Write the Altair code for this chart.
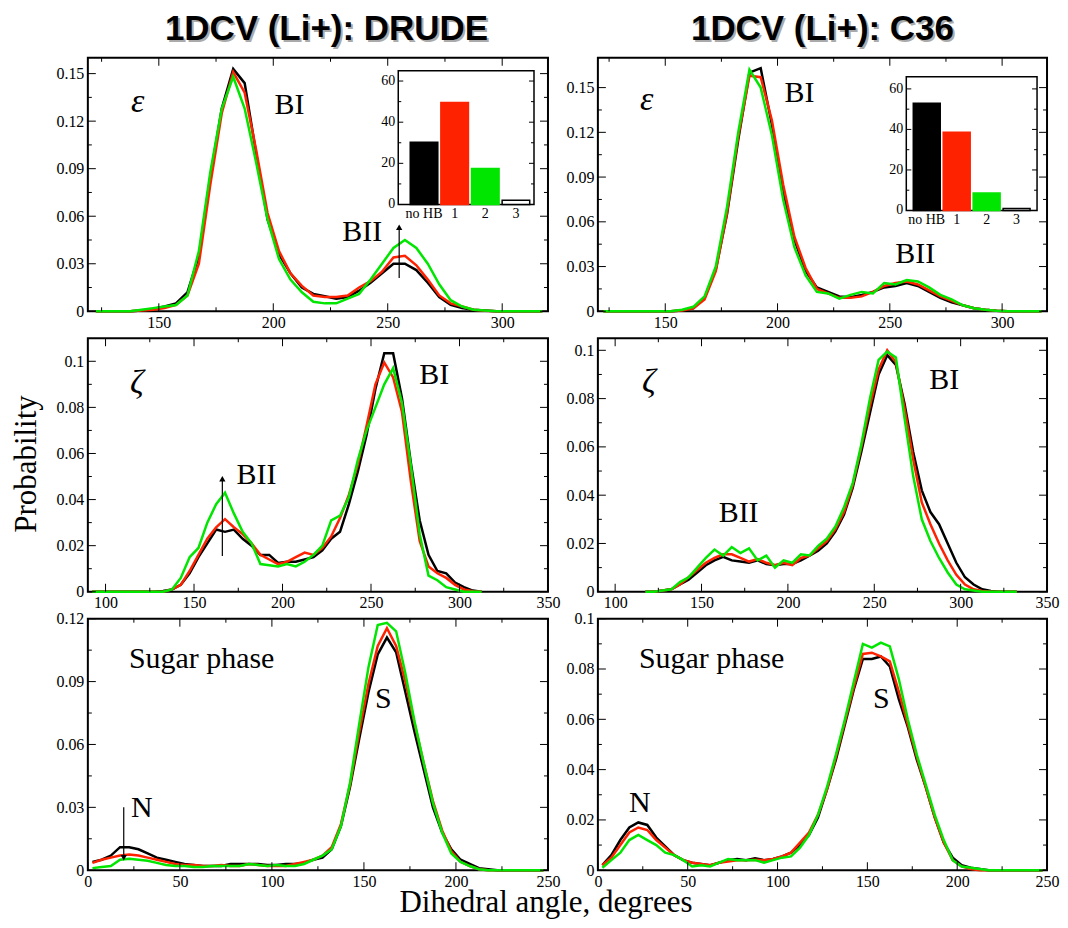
import altair as alt
import pandas as pd

# ---------------- data ----------------
eps_angle = [122.5, 127.5, 132.5, 137.5, 142.5, 147.5, 152.5, 157.5, 162.5, 167.5,
             172.5, 177.5, 182.5, 187.5, 192.5, 197.5, 202.5, 207.5, 212.5, 217.5,
             222.5, 227.5, 232.5, 237.5, 242.5, 247.5, 252.5, 257.5, 262.5, 267.5,
             272.5, 277.5, 282.5, 287.5, 292.5, 297.5, 302.5, 307.5, 312.5, 317.5]
eps_drude_black = [0, 0, 0, 0, 0.0005, 0.0015, 0.003, 0.005, 0.012, 0.035,
                   0.085, 0.128, 0.153, 0.144, 0.100, 0.058, 0.036, 0.024, 0.015, 0.011,
                   0.0095, 0.008, 0.009, 0.013, 0.018, 0.024, 0.030, 0.030, 0.026, 0.018,
                   0.009, 0.004, 0.002, 0.001, 0.0005, 0, 0, 0, 0, 0]
eps_drude_red = [0, 0, 0, 0, 0.0005, 0.001, 0.002, 0.004, 0.010, 0.030,
                 0.080, 0.125, 0.151, 0.138, 0.102, 0.062, 0.038, 0.024, 0.016, 0.010,
                 0.009, 0.009, 0.010, 0.015, 0.019, 0.025, 0.034, 0.035, 0.029, 0.020,
                 0.010, 0.005, 0.003, 0.001, 0.0003, 0, 0, 0, 0, 0]
eps_drude_green = [0, 0, 0, 0, 0.001, 0.002, 0.003, 0.004, 0.010, 0.038,
                   0.088, 0.128, 0.148, 0.128, 0.094, 0.058, 0.033, 0.020, 0.012, 0.006,
                   0.005, 0.005, 0.008, 0.011, 0.020, 0.030, 0.040, 0.045, 0.040, 0.030,
                   0.017, 0.007, 0.003, 0.001, 0.0005, 0, 0, 0, 0, 0]
eps_c36_black = [0, 0, 0, 0, 0, 0, 0, 0.0005, 0.002, 0.009,
                 0.028, 0.065, 0.115, 0.160, 0.163, 0.125, 0.080, 0.048, 0.027, 0.016,
                 0.013, 0.010, 0.0095, 0.011, 0.013, 0.016, 0.017, 0.019, 0.017, 0.013,
                 0.009, 0.006, 0.004, 0.002, 0.001, 0.0003, 0, 0, 0, 0]
eps_c36_red = [0, 0, 0, 0, 0, 0, 0, 0.0005, 0.002, 0.008,
               0.027, 0.066, 0.117, 0.158, 0.157, 0.128, 0.085, 0.050, 0.029, 0.015,
               0.012, 0.009, 0.009, 0.010, 0.013, 0.017, 0.019, 0.020, 0.018, 0.014,
               0.010, 0.007, 0.004, 0.002, 0.001, 0.0003, 0, 0, 0, 0]
eps_c36_green = [0, 0, 0, 0, 0, 0, 0, 0.001, 0.003, 0.010,
                 0.030, 0.070, 0.120, 0.162, 0.150, 0.118, 0.075, 0.043, 0.024, 0.013,
                 0.012, 0.0085, 0.011, 0.013, 0.012, 0.019, 0.018, 0.021, 0.020, 0.016,
                 0.011, 0.008, 0.004, 0.002, 0.001, 0.0003, 0, 0, 0, 0]

zeta_drude_angle = [92.5, 97.5, 102.5, 107.5, 112.5, 117.5, 122.5, 127.5, 132.5, 137.5,
                    142.5, 147.5, 152.5, 157.5, 162.5, 167.5, 172.5, 177.5, 182.5, 187.5,
                    192.5, 197.5, 202.5, 207.5, 212.5, 217.5, 222.5, 227.5, 232.5, 237.5,
                    242.5, 247.5, 252.5, 257.5, 262.5, 267.5, 272.5, 277.5, 282.5, 287.5,
                    292.5, 297.5, 302.5, 307.5, 312.5]
zeta_drude_black = [0, 0, 0, 0, 0, 0, 0, 0, 0.0003, 0.001,
                    0.003, 0.008, 0.015, 0.021, 0.027, 0.026, 0.027, 0.023, 0.020, 0.016,
                    0.016, 0.0125, 0.013, 0.013, 0.014, 0.015, 0.018, 0.023, 0.026, 0.038,
                    0.052, 0.068, 0.088, 0.1035, 0.1035, 0.084, 0.056, 0.031, 0.016, 0.009,
                    0.008, 0.004, 0.002, 0.0005, 0]
zeta_drude_red = [0, 0, 0, 0, 0, 0, 0, 0, 0, 0.001,
                  0.003, 0.009, 0.016, 0.023, 0.028, 0.0315, 0.028, 0.025, 0.021, 0.016,
                  0.014, 0.012, 0.013, 0.015, 0.017, 0.016, 0.019, 0.024, 0.032, 0.042,
                  0.055, 0.072, 0.090, 0.0995, 0.093, 0.078, 0.048, 0.022, 0.011, 0.008,
                  0.006, 0.003, 0.001, 0.0002, 0]
zeta_drude_green = [0, 0, 0, 0, 0, 0, 0, 0, 0, 0.001,
                    0.006, 0.015, 0.019, 0.030, 0.038, 0.043, 0.034, 0.026, 0.021, 0.012,
                    0.0115, 0.011, 0.012, 0.011, 0.013, 0.016, 0.020, 0.031, 0.033, 0.041,
                    0.057, 0.070, 0.080, 0.090, 0.097, 0.082, 0.055, 0.025, 0.007, 0.005,
                    0.002, 0.001, 0, 0, 0]

zeta_c36_angle = [117.5, 122.5, 127.5, 132.5, 137.5, 142.5, 147.5, 152.5, 157.5, 162.5,
                  167.5, 172.5, 177.5, 182.5, 187.5, 192.5, 197.5, 202.5, 207.5, 212.5,
                  217.5, 222.5, 227.5, 232.5, 237.5, 242.5, 247.5, 252.5, 257.5, 262.5,
                  267.5, 272.5, 277.5, 282.5, 287.5, 292.5, 297.5, 302.5, 307.5, 312.5,
                  317.5, 322.5, 327.5, 332.5]
zeta_c36_black = [0, 0, 0.0005, 0.001, 0.003, 0.005, 0.008, 0.011, 0.013, 0.0145,
                  0.013, 0.0125, 0.012, 0.013, 0.0115, 0.011, 0.0115, 0.0115, 0.013, 0.015,
                  0.017, 0.020, 0.025, 0.032, 0.043, 0.058, 0.074, 0.090, 0.098, 0.094,
                  0.078, 0.058, 0.042, 0.033, 0.028, 0.020, 0.012, 0.006, 0.003, 0.001,
                  0.0003, 0, 0, 0]
zeta_c36_red = [0, 0, 0.0005, 0.001, 0.003, 0.006, 0.009, 0.012, 0.014, 0.0155,
                0.0155, 0.014, 0.0125, 0.0135, 0.012, 0.011, 0.012, 0.011, 0.014, 0.015,
                0.018, 0.021, 0.026, 0.033, 0.044, 0.060, 0.077, 0.092, 0.100, 0.095,
                0.076, 0.055, 0.037, 0.028, 0.020, 0.013, 0.007, 0.003, 0.001, 0.0003,
                0, 0, 0, 0]
zeta_c36_green = [0, 0, 0.0005, 0.001, 0.004, 0.006, 0.010, 0.014, 0.0175, 0.015,
                  0.0185, 0.016, 0.018, 0.013, 0.015, 0.010, 0.013, 0.012, 0.0155, 0.015,
                  0.019, 0.022, 0.027, 0.035, 0.045, 0.061, 0.080, 0.096, 0.0995, 0.097,
                  0.072, 0.048, 0.030, 0.021, 0.014, 0.008, 0.003, 0.001, 0.0005, 0,
                  0, 0, 0, 0]

sugar_angle = [2.5, 7.5, 12.5, 17.5, 22.5, 27.5, 32.5, 37.5, 42.5, 47.5,
               52.5, 57.5, 62.5, 67.5, 72.5, 77.5, 82.5, 87.5, 92.5, 97.5,
               102.5, 107.5, 112.5, 117.5, 122.5, 127.5, 132.5, 137.5, 142.5, 147.5,
               152.5, 157.5, 162.5, 167.5, 172.5, 177.5, 182.5, 187.5, 192.5, 197.5,
               202.5, 207.5, 212.5, 217.5, 222.5, 227.5, 232.5, 237.5, 242.5, 247.5]
sugar_drude_black = [0.004, 0.005, 0.007, 0.011, 0.011, 0.010, 0.008, 0.006, 0.005, 0.004,
                     0.003, 0.0025, 0.002, 0.002, 0.002, 0.003, 0.003, 0.003, 0.003, 0.0025,
                     0.0025, 0.003, 0.003, 0.0035, 0.005, 0.006, 0.010, 0.021, 0.040, 0.063,
                     0.085, 0.103, 0.111, 0.104, 0.085, 0.066, 0.048, 0.030, 0.018, 0.010,
                     0.005, 0.003, 0.001, 0.0005, 0, 0, 0, 0, 0, 0]
sugar_drude_red = [0.0035, 0.005, 0.006, 0.007, 0.0075, 0.007, 0.006, 0.005, 0.004, 0.003,
                   0.0025, 0.0025, 0.002, 0.002, 0.0025, 0.002, 0.002, 0.003, 0.0025, 0.002,
                   0.002, 0.002, 0.003, 0.004, 0.005, 0.007, 0.011, 0.022, 0.041, 0.066,
                   0.089, 0.107, 0.1155, 0.107, 0.090, 0.070, 0.051, 0.033, 0.019, 0.009,
                   0.004, 0.002, 0.0005, 0, 0, 0, 0, 0, 0, 0]
sugar_drude_green = [0.001, 0.0015, 0.002, 0.005, 0.0055, 0.005, 0.0045, 0.0035, 0.0025, 0.002,
                     0.002, 0.0015, 0.0015, 0.002, 0.002, 0.002, 0.002, 0.003, 0.0025, 0.002,
                     0.0025, 0.002, 0.002, 0.003, 0.005, 0.007, 0.010, 0.021, 0.042, 0.070,
                     0.097, 0.117, 0.118, 0.114, 0.094, 0.071, 0.051, 0.032, 0.018, 0.008,
                     0.004, 0.002, 0.0005, 0, 0, 0, 0, 0, 0, 0]
sugar_c36_black = [0.002, 0.006, 0.012, 0.017, 0.019, 0.018, 0.013, 0.0095, 0.006, 0.004,
                   0.003, 0.0025, 0.002, 0.003, 0.004, 0.0045, 0.004, 0.0048, 0.004, 0.0045,
                   0.0055, 0.007, 0.010, 0.014, 0.021, 0.032, 0.044, 0.058, 0.072, 0.084,
                   0.084, 0.085, 0.081, 0.068, 0.057, 0.044, 0.033, 0.021, 0.011, 0.005,
                   0.002, 0.001, 0.0005, 0, 0, 0, 0, 0, 0, 0]
sugar_c36_red = [0.002, 0.005, 0.010, 0.015, 0.017, 0.016, 0.012, 0.009, 0.006, 0.004,
                 0.003, 0.0025, 0.002, 0.003, 0.0035, 0.004, 0.004, 0.0042, 0.004, 0.0045,
                 0.0055, 0.007, 0.011, 0.015, 0.022, 0.032, 0.045, 0.059, 0.073, 0.086,
                 0.0865, 0.085, 0.083, 0.071, 0.058, 0.045, 0.033, 0.021, 0.011, 0.004,
                 0.0015, 0.0005, 0, 0, 0, 0, 0, 0, 0, 0]
sugar_c36_green = [0.001, 0.004, 0.007, 0.012, 0.014, 0.012, 0.010, 0.007, 0.006, 0.004,
                   0.0015, 0.002, 0.0015, 0.003, 0.0045, 0.004, 0.004, 0.004, 0.003, 0.004,
                   0.005, 0.0055, 0.009, 0.014, 0.022, 0.033, 0.046, 0.060, 0.075, 0.090,
                   0.0885, 0.0905, 0.089, 0.076, 0.060, 0.046, 0.034, 0.022, 0.012, 0.004,
                   0.0015, 0.001, 0.0005, 0, 0, 0, 0, 0, 0, 0]

hb_categories = ["no HB", "1", "2", "3"]
hb_drude = [30.3, 49.6, 17.5, 2.1]
hb_c36 = [52.9, 38.6, 8.6, 1.0]

# tick values
eps_xmaj = [150, 200, 250, 300]
eps_xmin = [125, 175, 225, 275]
eps_ymaj = [0, 0.03, 0.06, 0.09, 0.12, 0.15]
eps_ymin = [0.015, 0.045, 0.075, 0.105, 0.135]
zeta_xmaj = [100, 150, 200, 250, 300, 350]
zeta_xmin = [125, 175, 225, 275, 325]
zeta_ymaj = [0, 0.02, 0.04, 0.06, 0.08, 0.1]
zeta_ymin = [0.01, 0.03, 0.05, 0.07, 0.09]
sugar_xmaj = [0, 50, 100, 150, 200, 250]
sugar_xmin = [25, 75, 125, 175, 225]
sugar_drude_ymaj = [0, 0.03, 0.06, 0.09, 0.12]
sugar_drude_ymin = [0.015, 0.045, 0.075, 0.105]
sugar_c36_ymaj = [0, 0.02, 0.04, 0.06, 0.08, 0.1]
sugar_c36_ymin = [0.01, 0.03, 0.05, 0.07, 0.09]
inset_ymaj = [0, 20, 40, 60]
inset_ymin = [10, 30, 50]

# arrows (angle, start, tip) in data units
arrow_eps_drude = (255.0, 0.021, 0.053)
arrow_zeta_drude = (166.0, 0.0155, 0.049)
arrow_sugar_drude = (19.5, 0.030, 0.006)

# ---------------- style ----------------
SERIF = "Liberation Serif"
SANS = "Liberation Sans"
BLACK = "#000000"
RED = "#ff2200"
GREEN = "#00e600"
ONE = pd.DataFrame({"k": [0]})
W_L, W_R = 461, 450
H_ROW = 254
Y_LABEL_EXPR = "datum.value == 0 ? '0' : format(datum.value, '.2~f')"


def label(txt, x, y, size=30, font=SERIF, style="normal", weight="normal",
          color=BLACK, angle=0, align="center", baseline="middle"):
    return alt.Chart(ONE).mark_text(
        text=txt, font=font, fontSize=size, fontStyle=style, fontWeight=weight,
        color=color, angle=angle, align=align, baseline=baseline
    ).encode(x=alt.value(x), y=alt.value(y))


def curve_layers(angle, black, red, green, xdom, ydom, xmaj, xmin, ymaj, ymin, W, H,
                 arrow=None, arrow_up=True):
    df = pd.DataFrame({"angle": angle, "black": black, "red": red, "green": green})
    xs = alt.Scale(domain=xdom, nice=False, zero=False)
    ys = alt.Scale(domain=ydom, nice=False, zero=False)
    common = dict(ticks=False, domain=False, grid=False, labelFont=SERIF,
                  labelFontSize=16, labelColor=BLACK, labelFlush=False,
                  labelOverlap=False, labelBound=False, title=None)
    xa = alt.Axis(values=xmaj, labelPadding=3, format="d", **common)
    ya = alt.Axis(values=ymaj, labelPadding=4, labelExpr=Y_LABEL_EXPR, **common)

    def X(f):
        return alt.X(f, type="quantitative", scale=xs, axis=xa)

    def Y(f):
        return alt.Y(f, type="quantitative", scale=ys, axis=ya)

    layers = []
    for col, c in (("black", BLACK), ("red", RED), ("green", GREEN)):
        layers.append(alt.Chart(df).mark_line(color=c, strokeWidth=2.5).encode(
            x=X("angle"), y=Y(col)))
    for vals, L in ((xmaj, 8), (xmin, 4)):
        d = pd.DataFrame({"v": vals})
        layers.append(alt.Chart(d).mark_rule(color=BLACK, strokeWidth=1).encode(
            x=X("v"), y=alt.value(H), y2=alt.value(H - L)))
        layers.append(alt.Chart(d).mark_rule(color=BLACK, strokeWidth=1).encode(
            x=X("v"), y=alt.value(0), y2=alt.value(L)))
    for vals, L in ((ymaj, 8), (ymin, 4)):
        d = pd.DataFrame({"v": vals})
        layers.append(alt.Chart(d).mark_rule(color=BLACK, strokeWidth=1).encode(
            y=Y("v"), x=alt.value(0), x2=alt.value(L)))
        layers.append(alt.Chart(d).mark_rule(color=BLACK, strokeWidth=1).encode(
            y=Y("v"), x=alt.value(W), x2=alt.value(W - L)))
    if arrow is not None:
        a = pd.DataFrame({"x": [arrow[0]], "y1": [arrow[1]], "y2": [arrow[2]]})
        layers.append(alt.Chart(a).mark_rule(color=BLACK, strokeWidth=1.2).encode(
            x=X("x"), y=Y("y1"), y2=alt.Y2("y2")))
        layers.append(alt.Chart(a).mark_point(
            shape="triangle-up" if arrow_up else "triangle-down", filled=True,
            size=40, color=BLACK, opacity=1).encode(x=X("x"), y=Y("y2")))
    return layers


def inset_layers(values, ydom, fx0, fx1, fy0, fy1, r0, r1):
    cats = pd.DataFrame({"cat": hb_categories, "pct": values})
    cx = alt.Scale(domain=hb_categories, range=[r0, r1], paddingInner=0.1, paddingOuter=0)
    cy = alt.Scale(domain=ydom, range=[fy1, fy0], nice=False, zero=True)
    layers = [
        alt.Chart(ONE).mark_rect(fill="white", stroke=BLACK, strokeWidth=1.5).encode(
            x=alt.value(fx0), x2=alt.value(fx1), y=alt.value(fy0), y2=alt.value(fy1)),
        alt.Chart(cats).mark_bar(strokeWidth=1.5).encode(
            x=alt.X("cat:N", scale=cx, axis=None, sort=hb_categories),
            y=alt.Y("pct:Q", scale=cy, axis=None),
            fill=alt.Fill("cat:N", scale=alt.Scale(domain=hb_categories,
                          range=[BLACK, RED, GREEN, "white"]), legend=None),
            stroke=alt.Stroke("cat:N", scale=alt.Scale(domain=hb_categories,
                              range=[BLACK, RED, GREEN, BLACK]), legend=None)),
        alt.Chart(cats).mark_text(font=SERIF, fontSize=14, color=BLACK, baseline="top").encode(
            x=alt.X("cat:N", scale=cx, axis=None, sort=hb_categories),
            y=alt.value(fy1 + 3), text="cat:N"),
    ]
    yl = pd.DataFrame({"v": inset_ymaj})
    layers.append(alt.Chart(yl).mark_text(font=SERIF, fontSize=14, color=BLACK,
                                          align="right", baseline="middle").encode(
        y=alt.Y("v:Q", scale=cy, axis=None), x=alt.value(fx0 - 3), text="v:Q"))
    for vals, L in ((inset_ymaj, 5), (inset_ymin, 3)):
        d = pd.DataFrame({"v": vals})
        layers.append(alt.Chart(d).mark_rule(color=BLACK, strokeWidth=1).encode(
            y=alt.Y("v:Q", scale=cy, axis=None), x=alt.value(fx0), x2=alt.value(fx0 + L)))
        layers.append(alt.Chart(d).mark_rule(color=BLACK, strokeWidth=1).encode(
            y=alt.Y("v:Q", scale=cy, axis=None), x=alt.value(fx1), x2=alt.value(fx1 - L)))
    return layers


def title_layers(txt, cx):
    return [
        label(txt, cx + 2, -16, size=35, font=SANS, weight="bold", color="#aaaaaa",
              baseline="alphabetic"),
        label(txt, cx, -18, size=35, font=SANS, weight="bold", baseline="alphabetic"),
    ]


# ---------------- panels ----------------
tl_main = curve_layers(eps_angle, eps_drude_black, eps_drude_red, eps_drude_green,
                       [119, 320], [0, 0.16], eps_xmaj, eps_xmin, eps_ymaj, eps_ymin,
                       W_L, H_ROW, arrow=arrow_eps_drude)
tl_main += [label("ε", 50, 44, size=34, style="italic"), label("BI", 202, 47),
            label("BII", 275, 175), label("%", 409, 40, size=32, font=SANS)]
tl_main += title_layers("1DCV (Li+): DRUDE", 239)
tl = alt.layer(
    alt.layer(*tl_main),
    alt.layer(*inset_layers(hb_drude, [0, 65], 311, 447, 13, 147, 323, 442.7)),
).resolve_scale(x="independent", y="independent").properties(width=W_L, height=H_ROW)

tr_main = curve_layers(eps_angle, eps_c36_black, eps_c36_red, eps_c36_green,
                       [120, 320], [0, 0.17], eps_xmaj, eps_xmin, eps_ymaj, eps_ymin,
                       W_R, H_ROW)
tr_main += [label("ε", 49, 42, size=34, style="italic"), label("BI", 202, 35),
            label("BII", 318, 197), label("%", 408, 45, size=32, font=SANS)]
tr_main += title_layers("1DCV (Li+): C36", 225)
tr = alt.layer(
    alt.layer(*tr_main),
    alt.layer(*inset_layers(hb_c36, [0, 66], 309, 440, 19, 153, 316, 433)),
).resolve_scale(x="independent", y="independent").properties(width=W_R, height=H_ROW)

ml_layers = curve_layers(zeta_drude_angle, zeta_drude_black, zeta_drude_red, zeta_drude_green,
                         [90, 350], [0, 0.11], zeta_xmaj, zeta_xmin, zeta_ymaj, zeta_ymin,
                         W_L, H_ROW, arrow=arrow_zeta_drude)
ml_layers += [label("ζ", 49, 45, size=34, style="italic"), label("BI", 347, 37),
              label("BII", 169, 137),
              label("Probability", -61, 126, size=31, angle=270)]
ml = alt.layer(*ml_layers).properties(width=W_L, height=H_ROW)

mr_layers = curve_layers(zeta_c36_angle, zeta_c36_black, zeta_c36_red, zeta_c36_green,
                         [90, 350], [0, 0.105], zeta_xmaj, zeta_xmin, zeta_ymaj, zeta_ymin,
                         W_R, H_ROW)
mr_layers += [label("ζ", 51, 44, size=34, style="italic"), label("BI", 347, 42),
              label("BII", 141, 175)]
mr = alt.layer(*mr_layers).properties(width=W_R, height=H_ROW)

bl_layers = curve_layers(sugar_angle, sugar_drude_black, sugar_drude_red, sugar_drude_green,
                         [0, 250], [0, 0.12], sugar_xmaj, sugar_xmin, sugar_drude_ymaj,
                         sugar_drude_ymin, W_L, 252, arrow=arrow_sugar_drude, arrow_up=False)
bl_layers += [label("Sugar phase", 114, 40), label("S", 296, 80), label("N", 54, 190),
              label("Dihedral angle, degrees", 459, 294, size=31, baseline="alphabetic")]
bl = alt.layer(*bl_layers).properties(width=W_L, height=252)

br_layers = curve_layers(sugar_angle, sugar_c36_black, sugar_c36_red, sugar_c36_green,
                         [0, 250], [0, 0.1], sugar_xmaj, sugar_xmin, sugar_c36_ymaj,
                         sugar_c36_ymin, W_R, 252)
br_layers += [label("Sugar phase", 114, 40), label("S", 284, 80), label("N", 42, 185)]
br = alt.layer(*br_layers).properties(width=W_R, height=252)

chart = alt.concat(
    tl, tr, ml, mr, bl, br, columns=2,
    spacing={"row": 27, "column": 50}, bounds="flush",
).properties(
    padding={"left": 2, "top": 2, "right": 0, "bottom": 0},
    background="white",
).configure_view(stroke=BLACK, strokeWidth=2)

chart.save("out.html", embed_options={"renderer": "svg", "actions": False})
